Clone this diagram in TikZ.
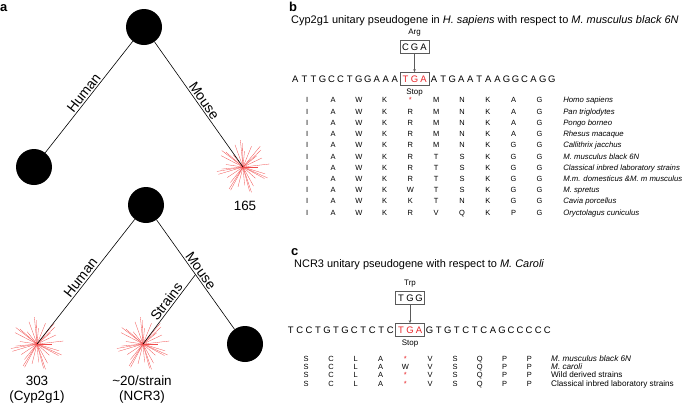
\documentclass[tikz,border=0pt]{standalone}
\usepackage{fontspec}
\setmainfont{Liberation Sans}
\usepackage{array}
\usetikzlibrary{arrows.meta, positioning}
\definecolor{stopred}{HTML}{E8262A}
\definecolor{boxgray}{HTML}{5A5A5A}
\definecolor{burstred}{HTML}{F04A4A}

% one nucleotide per fixed-width slot
\newcommand{\seqtxt}[1]{\foreach \nt in {#1}{\makebox[9.05bp]{\nt}}}
% red pseudogene burst around a coordinate
\newcommand{\burst}[1]{%
  \foreach \k in {0,...,31}
    \draw[burstline] (#1) -- ++({\k*11.25+6*sin(\k*83)}:{15+12*abs(sin(\k*137))});}
\newcommand{\stp}{\textcolor{stopred}{*}}

\begin{document}
\begin{tikzpicture}[
    x=1bp, y=-1bp,
    panel/.style={font=\fontsize{13}{13}\selectfont\bfseries, anchor=base west, inner sep=0pt},
    title/.style={font=\fontsize{11}{13}\selectfont, anchor=base west, inner sep=0pt},
    anc/.style={circle, fill=black, minimum size=36bp, inner sep=0pt},
    branch/.style={line width=0.6bp},
    burstline/.style={burstred, line width=0.3bp},
    tip/.style={font=\fontsize{13.5}{15}\selectfont, align=center, inner sep=0pt},
    brlabel/.style={font=\fontsize{14}{14}\selectfont, midway, sloped, above, inner sep=1.5bp},
    codon/.style={draw=boxgray, line width=0.6bp, inner sep=1bp, minimum height=13bp,
                  font=\fontsize{9.5}{10}\selectfont},
    seq/.style={inner sep=0pt, font=\fontsize{9.5}{10}\selectfont},
    aa/.style={font=\fontsize{8}{9}\selectfont, inner sep=0pt},
    mut/.style={-{Stealth[length=3bp,width=2.5bp]}, boxgray, line width=0.5bp},
]
\useasboundingbox (0,0) rectangle (685,407);

% ---- panel a
\node[panel] (la) at (0,11) {a};
\node[anc] (root1) at (144,27) {};
\node[anc] (hum1) at (34,167) {};
\coordinate (mus1) at (243,167);
\burst{mus1}
\draw[branch] (hum1) -- node[brlabel] {Human} (root1);
\draw[branch] (root1) -- node[brlabel] {Mouse} (mus1);
\node[tip] (n165) at (245,206) {165};

\node[anc] (root2) at (146,205) {};
\node[anc] (mus2) at (245,344) {};
\coordinate (hum2) at (37,344);
\coordinate (str2) at (143,344);
\burst{hum2}
\burst{str2}
\draw[branch] (hum2) -- node[brlabel] {Human} (root2);
\draw[branch] (root2) -- node[brlabel] {Mouse} coordinate[pos=0.5] (split) (mus2);
\draw[branch] (str2) -- node[brlabel, pos=0.55] {Strains} (split);
\node[tip] (n303) at (37,389.5) {303\\(Cyp2g1)};
\node[tip] (n20) at (142,389.5) {\textasciitilde20/strain\\(NCR3)};

% ---- panel b
\node[panel] (lb) at (289,11) {b};
\node[title] (tb) at (291,23) {Cyp2g1 unitary pseudogene in \textit{H. sapiens} with respect to \textit{M. musculus black 6N}};
\node[codon] (stopb) at (414.5,79) {\textcolor{stopred}{\seqtxt{T,G,A}}};
\node[seq, left=0pt of stopb] (seqbl) {\seqtxt{A,T,T,G,C,C,T,G,G,A,A,A}};
\node[seq, right=0pt of stopb] (seqbr) {\seqtxt{A,T,G,A,A,T,A,A,G,G,C,A,G,G}};
\node[codon] (refb) at (414.5,47) {\seqtxt{C,G,A}};
\node[aa, above=4bp of refb] (argb) {Arg};
\node[aa, below=2.5bp of stopb] (stpb) {Stop};
\draw[mut] (refb) -- (stopb);

\node[anchor=north west, inner sep=0pt, font=\fontsize{7.5}{11.27}\selectfont] (tabb) at (294.1,94.8) {%
  \setlength\tabcolsep{0pt}%
  \begin{tabular}{*{10}{w{c}{25.8bp}}@{\hspace{11bp}}>{\itshape\fontsize{7.8}{11.27}\selectfont}l}
    I & A & W & K & \stp & M & N & K & A & G & Homo sapiens\\
    I & A & W & K & R & M & N & K & A & G & Pan triglodytes\\
    I & A & W & K & R & M & N & K & A & G & Pongo borneo\\
    I & A & W & K & R & M & N & K & A & G & Rhesus macaque\\
    I & A & W & K & R & M & N & K & G & G & Callithrix jacchus\\
    I & A & W & K & R & T & S & K & G & G & M. musculus black 6N\\
    I & A & W & K & R & T & S & K & G & G & Classical inbred laboratory strains\\
    I & A & W & K & R & T & S & K & G & G & M.m. domesticus \&M. m musculus\\
    I & A & W & K & W & T & S & K & G & G & M. spretus\\
    I & A & W & K & K & T & N & K & G & G & Cavia porcellus\\
    I & A & W & K & R & V & Q & K & P & G & Oryctolagus cuniculus
  \end{tabular}};

% ---- panel c
\node[panel] (lc) at (291,255) {c};
\node[title] (tc) at (294,267) {NCR3 unitary pseudogene with respect to \textit{M. Caroli}};
\node[codon] (stopc) at (410,330) {\textcolor{stopred}{\seqtxt{T,G,A}}};
\node[seq, left=0pt of stopc] (seqcl) {\seqtxt{T,C,C,T,G,T,G,C,T,C,T,C}};
\node[seq, right=0pt of stopc] (seqcr) {\seqtxt{G,T,G,T,C,T,C,A,G,C,C,C,C,C}};
\node[codon] (refc) at (410,298) {\seqtxt{T,G,G}};
\node[aa, above=4bp of refc] (trpc) {Trp};
\node[aa, below=2.5bp of stopc] (stpc) {Stop};
\draw[mut] (refc) -- (stopc);

\node[anchor=north west, inner sep=0pt, font=\fontsize{7.5}{7.6}\selectfont] (tabc) at (293.6,355.4) {%
  \setlength\tabcolsep{0pt}%
  \begin{tabular}{*{10}{w{c}{24.8bp}}@{\hspace{9.4bp}}>{\fontsize{8.2}{7.6}\selectfont}l}
    S & C & L & A & \stp & V & S & Q & P & P & \textit{M. musculus black 6N}\\
    S & C & L & A & W & V & S & Q & P & P & \textit{M. caroli}\\
    S & C & L & A & \stp & V & S & Q & P & P & Wild derived strains\\
    S & C & L & A & \stp & V & S & Q & P & P & Classical inbred laboratory strains
  \end{tabular}};
\end{tikzpicture}
\end{document}
